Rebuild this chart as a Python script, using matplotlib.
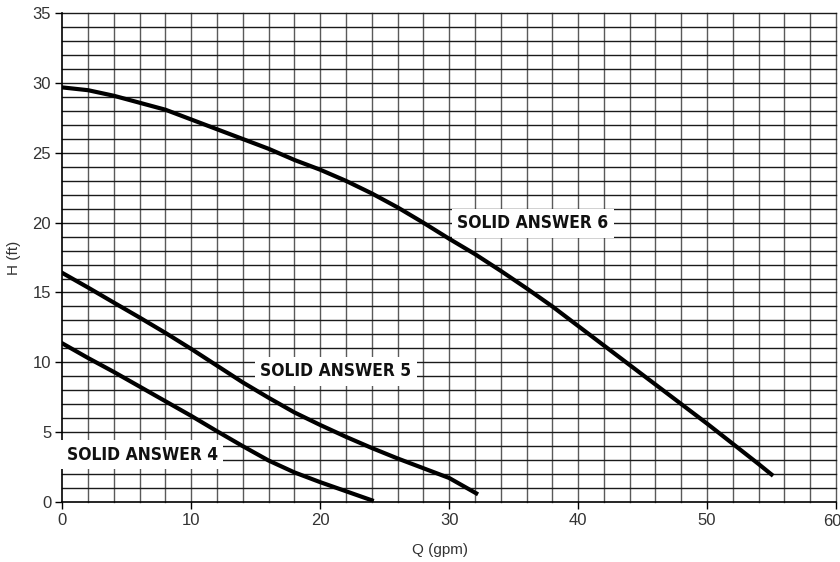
import numpy as np
import matplotlib
matplotlib.use('Agg')
from matplotlib import pyplot as plt
from matplotlib.ticker import MultipleLocator

# pump curves, Q in gpm, H in ft
q6 = [0, 2, 4, 6, 8, 10, 12, 14, 16, 18, 20, 22, 24, 26, 28, 30, 32, 34, 36, 38,
      40, 42, 44, 46, 48, 50, 52, 54, 55]
h6 = [29.7, 29.5, 29.1, 28.6, 28.1, 27.4, 26.7, 26.0, 25.3, 24.5, 23.8, 23.0, 22.1,
      21.1, 20.0, 18.85, 17.75, 16.55, 15.3, 14.0, 12.6, 11.2, 9.8, 8.4, 7.0, 5.6,
      4.15, 2.7, 1.95]

q5 = [0, 2, 4, 6, 8, 10, 12, 14, 16, 18, 20, 22, 24, 26, 28, 30, 32.1]
h5 = [16.4, 15.35, 14.27, 13.2, 12.1, 10.95, 9.75, 8.55, 7.45, 6.4, 5.5, 4.65, 3.85,
      3.1, 2.4, 1.7, 0.6]

q4 = [0, 2, 4, 6, 8, 10, 12, 14, 16, 18, 20, 22, 24]
h4 = [11.35, 10.3, 9.3, 8.25, 7.2, 6.15, 5.05, 3.98, 2.95, 2.1, 1.4, 0.75, 0.1]

labels = ['SOLID ANSWER 4', 'SOLID ANSWER 5', 'SOLID ANSWER 6']
label_q = [6.2, 21.2, 36.5]
label_h = [3.36, 9.35, 19.96]

xticks = [0, 10, 20, 30, 40, 50, 60]
xticklabels = ['0', '10', '20', '30', '40', '50', '60']

fig = plt.figure(figsize=(8.4, 5.62), dpi=100)
ax = fig.add_axes([0.0742, 0.1073, 0.921, 0.8687])

ax.set_xlim(0, 60)
ax.set_ylim(0, 35)
ax.yaxis.set_major_locator(MultipleLocator(5))

# graph paper grid
for x in np.arange(2, 61, 2):
    ax.axvline(x, color='#5a5a5a', linewidth=1.0, zorder=1, clip_on=False)
for y in np.arange(1, 36, 1):
    ax.axhline(y, color='#1a1a1a', linewidth=1.0, zorder=1, clip_on=False)

for q, h in [(q6, h6), (q5, h5), (q4, h4)]:
    ax.plot(q, h, color='black', linewidth=3.0, solid_joinstyle='round', zorder=3)

for t, x, y in zip(labels, label_q, label_h):
    ax.text(x, y, t, ha='center', va='center', fontsize=12.5, fontweight='bold',
            fontstretch='condensed', family=['DejaVu Sans'], color='#111111',
            bbox=dict(facecolor='white', edgecolor='none', pad=4), zorder=4)

for s in ['top', 'right']:
    ax.spines[s].set_visible(False)
for s in ['left', 'bottom']:
    ax.spines[s].set_color('black')
    ax.spines[s].set_linewidth(1.2)

tick_font = dict(family='Liberation Sans', size=12, color='#333333')
ax.tick_params(direction='out', length=5, width=1, color='black', pad=3)
ax.set_xticks(xticks)
# the last label would be cut at the figure edge, it is drawn right-aligned below
ax.set_xticklabels(xticklabels[:-1] + [''], **tick_font)
ax.annotate(xticklabels[-1], xy=(xticks[-1], 0), xycoords='data',
            xytext=(4, -8.5), textcoords='offset points', ha='right', va='top',
            annotation_clip=False, **tick_font)
for lab in ax.get_yticklabels():
    lab.set_family('Liberation Sans')
    lab.set_fontsize(12)
    lab.set_color('#333333')

ax.set_xlabel('Q (gpm)', fontsize=11, color='#333333', family='Liberation Sans')
ax.set_ylabel('H (ft)', fontsize=11, color='#333333', family='Liberation Sans')
ax.xaxis.set_label_coords(0.488, -0.085)
ax.yaxis.set_label_coords(-0.053, 0.5)

fig.savefig('out.png', dpi=100)
